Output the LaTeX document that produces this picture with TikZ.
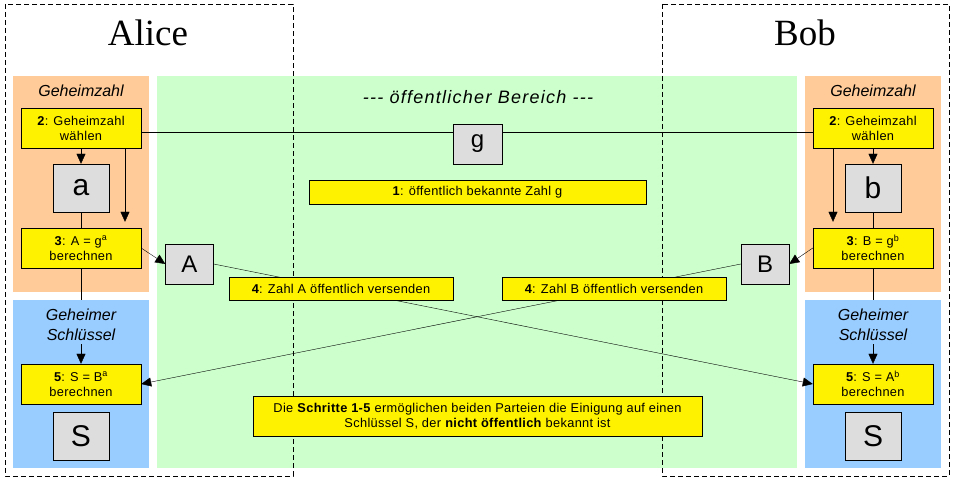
\documentclass[tikz,border=0pt]{standalone}
\usepackage{fontspec}
\setmainfont{Liberation Sans}
\newfontfamily\namefont{Liberation Serif}
\usetikzlibrary{arrows.meta}

\definecolor{secretorange}{HTML}{FFCC99}
\definecolor{publicgreen}{HTML}{CCFFCC}
\definecolor{keyblue}{HTML}{99CCFF}
\definecolor{valuegray}{HTML}{DDDDDD}

\pgfdeclarelayer{back}
\pgfdeclarelayer{lines}
\pgfsetlayers{back,lines,main}

\begin{document}
\begin{tikzpicture}[
    x=1pt, y=-1pt,
    line width=0.8pt,
    region/.style={inner sep=0, minimum width=136pt, minimum height=#1},
    party/.style={dash pattern=on 5pt off 3pt},
    nametext/.style={font=\namefont\fontsize{37}{40}\selectfont},
    labeltext/.style={font=\itshape\fontsize{16}{20}\selectfont, align=center},
    stepbox/.style={rectangle, draw, fill=yellow, align=center, inner sep=0,
        minimum width=120pt, minimum height=40pt,
        font=\fontsize{12.8}{15}\selectfont\addfontfeature{LetterSpace=2.5}},
    valuebox/.style={rectangle, draw, fill=valuegray, inner sep=0,
        minimum width=56pt, minimum height=48pt, font=\fontsize{30}{32}\selectfont},
    smallvalue/.style={valuebox, minimum width=48pt, minimum height=40pt, font=\fontsize{24}{26}\selectfont},
    arrow/.style={-{Triangle[length=10pt,width=9pt]}}
]
\useasboundingbox (0,0) rectangle (954,481);

% coloured areas
\begin{pgfonlayer}{back}
\node[region=216pt, fill=secretorange] (secretA) at (81,184) {};
\node[region=216pt, fill=secretorange] (secretB) at (873,184) {};
\node[region=168pt, fill=keyblue] (keyA) at (81,384) {};
\node[region=168pt, fill=keyblue] (keyB) at (873,384) {};
\node[region=392pt, minimum width=640pt, fill=publicgreen] (public) at (477,272) {};
\end{pgfonlayer}

% the two parties
\begin{pgfonlayer}{lines}
\draw[party] (5,4) rectangle (293,476);
\draw[party] (662,4) rectangle (949,476);
\end{pgfonlayer}
\node[nametext] (alice) at (148,33) {Alice};
\node[nametext] (bob) at (805,33) {Bob};

% labels of the areas
\node[labeltext] (secretlabelA) at (81,91) {Geheimzahl};
\node[labeltext] (secretlabelB) at (873,91) {Geheimzahl};
\node[labeltext] (keylabelA) at (81,325) {Geheimer\\Schlüssel};
\node[labeltext] (keylabelB) at (873,325) {Geheimer\\Schlüssel};
\node[labeltext, font=\itshape\fontsize{18}{20}\selectfont\addfontfeature{LetterSpace=7}] (publiclabel) at (478,97)
    {-{}-{}- öffentlicher Bereich -{}-{}-};

% steps of Alice
\node[stepbox] (chooseA) at (81,128) {\textbf{2}: Geheimzahl\\wählen};
\node[stepbox] (computeA) at (81,248) {\textbf{3}: A = g\textsuperscript{a}\\berechnen};
\node[stepbox] (keystepA) at (81,384) {\textbf{5}: S = B\textsuperscript{a}\\berechnen};

% steps of Bob
\node[stepbox] (chooseB) at (873,128) {\textbf{2}: Geheimzahl\\wählen};
\node[stepbox] (computeB) at (873,248) {\textbf{3}: B = g\textsuperscript{b}\\berechnen};
\node[stepbox] (keystepB) at (873,384) {\textbf{5}: S = A\textsuperscript{b}\\berechnen};

% public steps
\node[stepbox, minimum width=337pt, minimum height=24pt] (known) at (477.5,192) {\textbf{1}: öffentlich bekannte Zahl g};
\node[stepbox, minimum width=224pt, minimum height=23pt] (sendA) at (341,288.5) {\textbf{4}: Zahl A öffentlich versenden};
\node[stepbox, minimum width=224pt, minimum height=23pt] (sendB) at (614,288.5) {\textbf{4}: Zahl B öffentlich versenden};
\node[stepbox, minimum width=449pt] (result) at (477.5,416)
    {Die \textbf{Schritte 1-5} ermöglichen beiden Parteien die Einigung auf einen\\Schlüssel S, der \textbf{nicht öffentlich} bekannt ist};

% values
\node[valuebox] (a) at (81,188) {a};
\node[valuebox] (b) at (873,188) {b};
\node[valuebox] (SA) at (81,436) {S};
\node[valuebox] (SB) at (873,436) {S};
\node[smallvalue] (A) at (189.5,264) {A};
\node[smallvalue] (B) at (765,264) {B};
\node[smallvalue, minimum width=49pt] (g) at (477.5,144) {g};

% connections
\begin{pgfonlayer}{lines}
\draw ([yshift=-4pt]chooseA.east) -- ([yshift=-4pt]chooseB.west);
\draw[arrow] (chooseA) -- (a);
\draw[arrow] (chooseB) -- (b);
\draw[arrow] ([xshift=44pt]chooseA.south) -- ([xshift=44pt,yshift=6pt]computeA.north);
\draw[arrow] ([xshift=-40pt]chooseB.south) -- ([xshift=-40pt,yshift=6pt]computeB.north);
\draw (a) -- (computeA);
\draw (b) -- (computeB);
\draw (computeA) -- (keyA.north);
\draw (computeB) -- (keyB.north);
\draw[arrow] (keylabelA) -- (keystepA);
\draw[arrow] (keylabelB) -- (keystepB);
\draw[arrow] (computeA.east) -- (A.west);
\draw[arrow] (computeB.west) -- (B.east);
\draw[arrow] (A.east) -- (keystepB.west);
\draw[arrow] (B.west) -- (keystepA.east);
\end{pgfonlayer}
\end{tikzpicture}
\end{document}
